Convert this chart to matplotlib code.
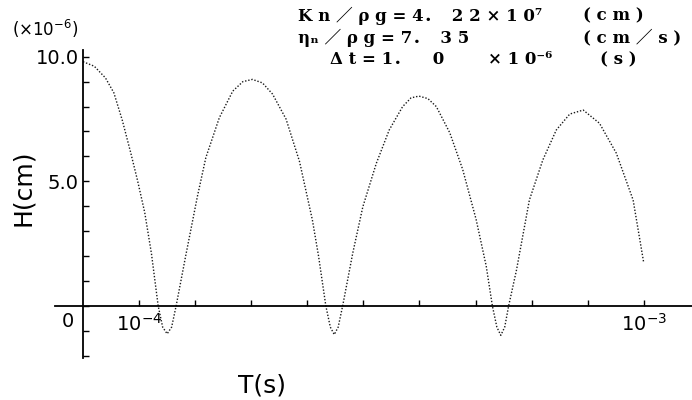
import matplotlib
matplotlib.use('Agg')
import matplotlib.pyplot as plt

# time in units of 1e-4 s, height in units of 1e-6 cm
T = [0.00, 0.20, 0.40, 0.55, 0.70, 0.85, 0.97, 1.10, 1.22, 1.34, 1.42, 1.50, 1.58, 1.66,
     1.83, 2.04, 2.19, 2.43, 2.67, 2.85, 3.02, 3.20, 3.38, 3.62, 3.86, 4.09, 4.20, 4.33,
     4.41, 4.48, 4.55, 4.63, 4.81, 4.99, 5.23, 5.46, 5.70, 5.85, 5.99, 6.15, 6.30, 6.54,
     6.77, 7.01, 7.19, 7.30, 7.38, 7.45, 7.52, 7.59, 7.73, 7.96, 8.20, 8.44, 8.68, 8.92,
     9.21, 9.51, 9.81, 10.00]
H = [9.80, 9.62, 9.15, 8.55, 7.45, 6.15, 5.05, 3.75, 2.10, 0.00, -0.85, -1.12, -0.85, 0.00,
     2.00, 4.40, 5.95, 7.55, 8.62, 9.00, 9.09, 8.95, 8.50, 7.50, 5.80, 3.45, 2.00, 0.00,
     -0.85, -1.15, -0.85, 0.00, 2.12, 3.98, 5.72, 7.06, 8.00, 8.35, 8.42, 8.32, 8.00, 6.95,
     5.48, 3.47, 1.60, 0.00, -0.85, -1.18, -0.85, 0.00, 1.44, 4.25, 5.86, 7.06, 7.70, 7.86,
     7.33, 6.13, 4.25, 1.72]

y_ticks = [5, 10]
y_labels = ['5.0', '10.0']
x_ticks = [1, 10]
x_labels = [r'$10^{-4}$', r'$10^{-3}$']

fig = plt.figure(figsize=(6.92, 4.0), dpi=100)
ax = fig.add_axes([55/692, 42/400, 637/692, 308/400])

ax.plot(T, H, color='#1a1a1a', lw=1.0, ls=(0, (1, 1.3)))

ax.set_xlim(-0.5, 10.86)
ax.set_ylim(-2.09, 10.27)
for s in ['top', 'right']:
    ax.spines[s].set_visible(False)
for s in ['left', 'bottom']:
    ax.spines[s].set_position(('data', 0))
    ax.spines[s].set_linewidth(1.3)

ax.set_yticks(y_ticks, y_labels)
ax.set_yticks(range(-2, 11), minor=True)
ax.set_xticks(x_ticks, x_labels)
ax.set_xticks(range(1, 11), minor=True)
ax.tick_params(which='both', direction='in', length=4, width=1)
ax.tick_params(axis='y', labelsize=14, pad=3)
ax.tick_params(axis='x', labelsize=14, pad=5)

ax.text(-0.27, -0.62, '0', ha='center', va='center', fontsize=14)

fig.text(12/692, 1 - 29/400, r'$(\times 10^{-6})$', ha='left', va='center', fontsize=12)
fig.text(23/692, 1 - 188/400, 'H(cm)', rotation=90, ha='center', va='center', fontsize=18)
fig.text(262/692, 1 - 385/400, 'T(s)', ha='center', va='center', fontsize=18)

# parameter block, upper right
fam = ['DejaVu Serif', 'Noto Sans CJK JP']
kw = dict(ha='left', va='center', fontsize=12, fontweight='bold', family=fam)
fig.text(298/692, 1 - 16/400, 'K n ／ ρ g = 4．  2 2 × 1 0⁷', **kw)
fig.text(583/692, 1 - 16/400, '( c m )', **kw)
fig.text(298/692, 1 - 38/400, 'ηₙ ／ ρ g = 7．  3 5', **kw)
fig.text(583/692, 1 - 38/400, '( c m ／ s )', **kw)
fig.text(330/692, 1 - 60/400, 'Δ t = 1．    0', **kw)
fig.text(488/692, 1 - 60/400, '× 1 0⁻⁶', **kw)
fig.text(600/692, 1 - 60/400, '( s )', **kw)

fig.savefig('out.png', dpi=100)
